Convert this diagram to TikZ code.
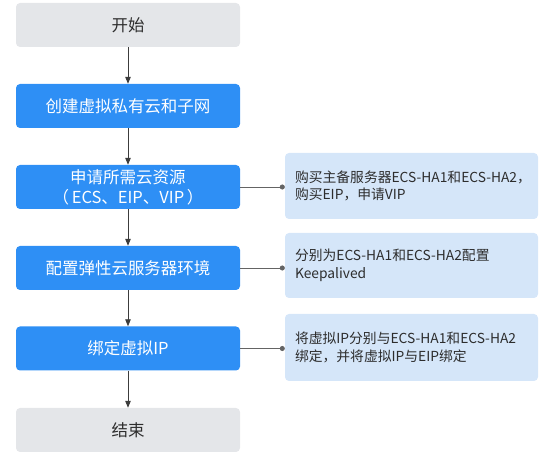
\documentclass[tikz,border=0pt]{standalone}
\usepackage{fontspec}
\setmainfont{Noto Sans CJK SC}
\usetikzlibrary{arrows.meta}
\definecolor{mainblue}{RGB}{46,143,245}
\definecolor{startgray}{RGB}{228,230,233}
\definecolor{noteblue}{RGB}{213,230,249}
\definecolor{arrowgray}{RGB}{60,60,60}
\definecolor{linegray}{RGB}{100,100,100}
\definecolor{textdark}{RGB}{45,45,45}
\hfuzz=100pt
\tikzset{
  stepbox/.style={rectangle, rounded corners=4pt, minimum width=224pt, minimum height=44pt, inner sep=0pt, fill=mainblue, text=white, font=\fontsize{16.5pt}{20pt}\selectfont, align=center},
  endbox/.style={stepbox, fill=startgray, text=textdark},
  notebox/.style={rectangle, rounded corners=4pt, minimum width=253pt, inner sep=0pt, fill=noteblue, text=textdark, font=\fontsize{13.8pt}{17.5pt}\selectfont},
  flowarrow/.style={draw=arrowgray, line width=0.9pt, -{Triangle[length=7pt,width=5.5pt]}},
  noteline/.style={draw=linegray, line width=0.9pt, -{Circle[length=5pt]}}
}
\begin{document}
\begin{tikzpicture}[x=1pt,y=-1pt]
\useasboundingbox (0,0) rectangle (550,457);
\node[endbox] (start) at (128,25) {开始};
\node[stepbox] (vpc) at (128,106) {创建虚拟私有云和子网};
\node[stepbox] (res) at (128,187) {申请所需云资源\\（\,ECS、EIP、VIP\,）};
\node[stepbox] (cfg) at (128,268) {配置弹性云服务器环境};
\node[stepbox] (bind) at (128,348.5) {绑定虚拟IP};
\node[endbox] (finish) at (128,430) {结束};
\node[notebox, minimum height=66pt] (n1) at (411.5,186) {\begin{minipage}{233pt}\mbox{购买主备服务器ECS-HA1和ECS-HA2，}\\\mbox{购买EIP，申请VIP}\end{minipage}};
\node[notebox, minimum height=65pt] (n2) at (411.5,265.5) {\begin{minipage}{233pt}\mbox{分别为ECS-HA1和ECS-HA2配置}\\\mbox{Keepalived}\end{minipage}};
\node[notebox, minimum height=67pt] (n3) at (411.5,347.5) {\begin{minipage}{233pt}\mbox{将虚拟IP分别与ECS-HA1和ECS-HA2}\\\mbox{绑定，并将虚拟IP与EIP绑定}\end{minipage}};
\draw[flowarrow] (start) -- (vpc);
\draw[flowarrow] (vpc) -- (res);
\draw[flowarrow] (res) -- (cfg);
\draw[flowarrow] (cfg) -- (bind);
\draw[flowarrow] (bind) -- (finish);
\draw[noteline] (res.east) -- (res.east -| n1.west);
\draw[noteline] (cfg.east) -- (cfg.east -| n2.west);
\draw[noteline] (bind.east) -- (bind.east -| n3.west);
\end{tikzpicture}
\end{document}
